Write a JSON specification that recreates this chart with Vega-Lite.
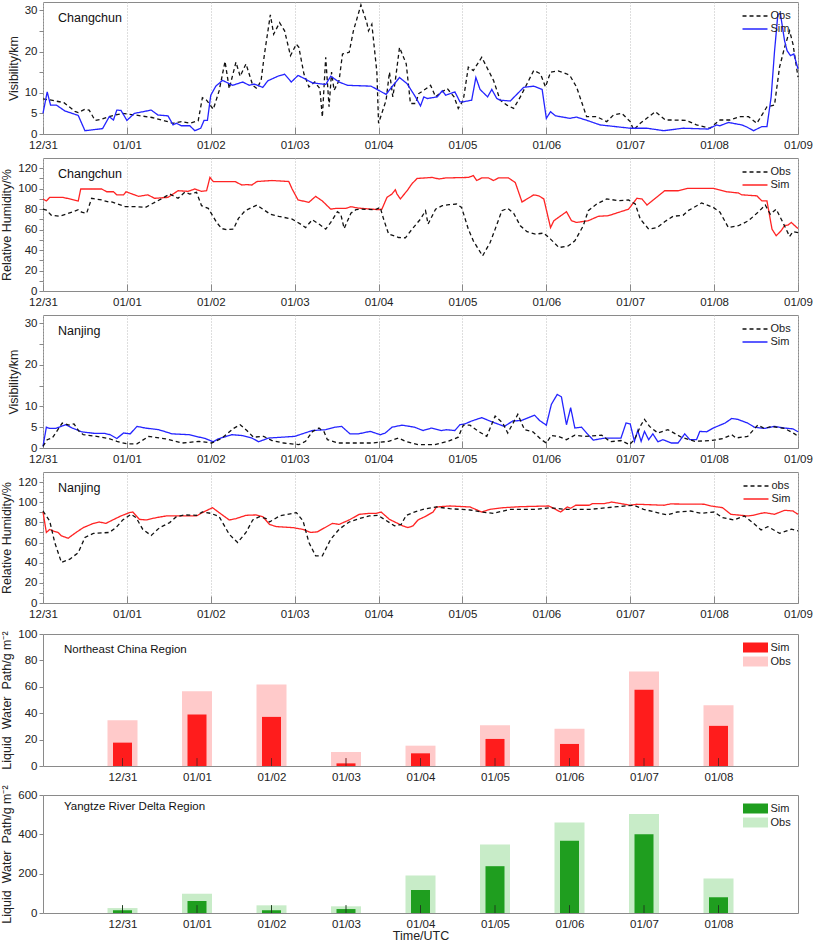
{
"$schema": "https://vega.github.io/schema/vega-lite/v6.json",
"background": "white",
"padding": {"left": 0, "top": 1, "right": 0, "bottom": 0},
"spacing": 7,
"resolve": {"scale": {"color": "independent", "strokeDash": "independent"}, "legend": {"color": "independent", "strokeDash": "independent"}},
"datasets": {
"p1": [
{"t":0,"v":8.5,"s":"Obs"},{"t":0.1,"v":8.2,"s":"Obs"},{"t":0.25,"v":7.6,"s":"Obs"},{"t":0.38,"v":5.5,"s":"Obs"},{"t":0.42,"v":5.2,"s":"Obs"},{"t":0.5,"v":6.0,"s":"Obs"},{"t":0.55,"v":5.8,"s":"Obs"},{"t":0.62,"v":3.3,"s":"Obs"},{"t":0.7,"v":3.6,"s":"Obs"},{"t":0.8,"v":4.3,"s":"Obs"},{"t":0.95,"v":5.0,"s":"Obs"},{"t":1.1,"v":4.6,"s":"Obs"},{"t":1.3,"v":4.0,"s":"Obs"},{"t":1.45,"v":3.2,"s":"Obs"},{"t":1.55,"v":2.6,"s":"Obs"},{"t":1.65,"v":3.0,"s":"Obs"},{"t":1.75,"v":2.6,"s":"Obs"},{"t":1.85,"v":3.2,"s":"Obs"},{"t":1.9,"v":8.8,"s":"Obs"},{"t":1.95,"v":8.2,"s":"Obs"},{"t":2.03,"v":6.0,"s":"Obs"},{"t":2.1,"v":10.5,"s":"Obs"},{"t":2.17,"v":17.6,"s":"Obs"},{"t":2.22,"v":11,"s":"Obs"},{"t":2.3,"v":17.4,"s":"Obs"},{"t":2.35,"v":14,"s":"Obs"},{"t":2.42,"v":17,"s":"Obs"},{"t":2.5,"v":11.8,"s":"Obs"},{"t":2.55,"v":11,"s":"Obs"},{"t":2.6,"v":13,"s":"Obs"},{"t":2.64,"v":19.4,"s":"Obs"},{"t":2.71,"v":28.9,"s":"Obs"},{"t":2.75,"v":24.2,"s":"Obs"},{"t":2.82,"v":27,"s":"Obs"},{"t":2.88,"v":25,"s":"Obs"},{"t":2.95,"v":19,"s":"Obs"},{"t":3.02,"v":21.8,"s":"Obs"},{"t":3.05,"v":21,"s":"Obs"},{"t":3.11,"v":14.6,"s":"Obs"},{"t":3.17,"v":11.4,"s":"Obs"},{"t":3.24,"v":12.6,"s":"Obs"},{"t":3.3,"v":11,"s":"Obs"},{"t":3.33,"v":4.1,"s":"Obs"},{"t":3.37,"v":18.6,"s":"Obs"},{"t":3.41,"v":6.6,"s":"Obs"},{"t":3.44,"v":15,"s":"Obs"},{"t":3.47,"v":10.6,"s":"Obs"},{"t":3.53,"v":13,"s":"Obs"},{"t":3.57,"v":19.4,"s":"Obs"},{"t":3.65,"v":19.8,"s":"Obs"},{"t":3.7,"v":25,"s":"Obs"},{"t":3.79,"v":31.3,"s":"Obs"},{"t":3.86,"v":27,"s":"Obs"},{"t":3.88,"v":25,"s":"Obs"},{"t":3.92,"v":26.6,"s":"Obs"},{"t":3.98,"v":15,"s":"Obs"},{"t":4.0,"v":2.6,"s":"Obs"},{"t":4.09,"v":8.2,"s":"Obs"},{"t":4.13,"v":15,"s":"Obs"},{"t":4.17,"v":9,"s":"Obs"},{"t":4.2,"v":13,"s":"Obs"},{"t":4.25,"v":21,"s":"Obs"},{"t":4.33,"v":17,"s":"Obs"},{"t":4.38,"v":7.4,"s":"Obs"},{"t":4.44,"v":7.4,"s":"Obs"},{"t":4.48,"v":9.8,"s":"Obs"},{"t":4.54,"v":10.6,"s":"Obs"},{"t":4.62,"v":11.8,"s":"Obs"},{"t":4.68,"v":9,"s":"Obs"},{"t":4.74,"v":10,"s":"Obs"},{"t":4.82,"v":11,"s":"Obs"},{"t":4.9,"v":9,"s":"Obs"},{"t":4.95,"v":6.2,"s":"Obs"},{"t":5.01,"v":8.2,"s":"Obs"},{"t":5.07,"v":16.2,"s":"Obs"},{"t":5.13,"v":15.4,"s":"Obs"},{"t":5.23,"v":18.6,"s":"Obs"},{"t":5.31,"v":15.4,"s":"Obs"},{"t":5.37,"v":13,"s":"Obs"},{"t":5.45,"v":8.2,"s":"Obs"},{"t":5.53,"v":7,"s":"Obs"},{"t":5.61,"v":6.2,"s":"Obs"},{"t":5.69,"v":9,"s":"Obs"},{"t":5.77,"v":12.2,"s":"Obs"},{"t":5.85,"v":15.4,"s":"Obs"},{"t":5.93,"v":14.6,"s":"Obs"},{"t":5.99,"v":11.4,"s":"Obs"},{"t":6.05,"v":15,"s":"Obs"},{"t":6.14,"v":15.3,"s":"Obs"},{"t":6.24,"v":14.6,"s":"Obs"},{"t":6.28,"v":14.2,"s":"Obs"},{"t":6.36,"v":11.4,"s":"Obs"},{"t":6.48,"v":4.2,"s":"Obs"},{"t":6.6,"v":4.2,"s":"Obs"},{"t":6.72,"v":3,"s":"Obs"},{"t":6.8,"v":4.6,"s":"Obs"},{"t":6.9,"v":5,"s":"Obs"},{"t":7.0,"v":3,"s":"Obs"},{"t":7.04,"v":1,"s":"Obs"},{"t":7.12,"v":2.6,"s":"Obs"},{"t":7.3,"v":5.4,"s":"Obs"},{"t":7.42,"v":3.4,"s":"Obs"},{"t":7.51,"v":3.4,"s":"Obs"},{"t":7.67,"v":3.3,"s":"Obs"},{"t":7.79,"v":2.2,"s":"Obs"},{"t":7.95,"v":1.4,"s":"Obs"},{"t":8.07,"v":3.4,"s":"Obs"},{"t":8.19,"v":3.4,"s":"Obs"},{"t":8.31,"v":4.2,"s":"Obs"},{"t":8.41,"v":4.2,"s":"Obs"},{"t":8.51,"v":2.6,"s":"Obs"},{"t":8.63,"v":6.6,"s":"Obs"},{"t":8.72,"v":7,"s":"Obs"},{"t":8.78,"v":16.2,"s":"Obs"},{"t":8.84,"v":21,"s":"Obs"},{"t":8.9,"v":25,"s":"Obs"},{"t":8.94,"v":21.8,"s":"Obs"},{"t":9.0,"v":13.8,"s":"Obs"},
{"t":0,"v":5,"s":"Sim"},{"t":0.05,"v":10.2,"s":"Sim"},{"t":0.09,"v":7,"s":"Sim"},{"t":0.16,"v":7,"s":"Sim"},{"t":0.26,"v":5.6,"s":"Sim"},{"t":0.42,"v":4.5,"s":"Sim"},{"t":0.5,"v":0.8,"s":"Sim"},{"t":0.71,"v":1.3,"s":"Sim"},{"t":0.79,"v":4.2,"s":"Sim"},{"t":0.84,"v":3.4,"s":"Sim"},{"t":0.88,"v":5.8,"s":"Sim"},{"t":0.93,"v":5.7,"s":"Sim"},{"t":1.0,"v":3.3,"s":"Sim"},{"t":1.09,"v":5,"s":"Sim"},{"t":1.29,"v":5.8,"s":"Sim"},{"t":1.37,"v":4.6,"s":"Sim"},{"t":1.49,"v":4.4,"s":"Sim"},{"t":1.55,"v":2.2,"s":"Sim"},{"t":1.59,"v":2.6,"s":"Sim"},{"t":1.65,"v":2,"s":"Sim"},{"t":1.75,"v":2,"s":"Sim"},{"t":1.81,"v":0.8,"s":"Sim"},{"t":1.88,"v":1.4,"s":"Sim"},{"t":1.92,"v":3.3,"s":"Sim"},{"t":1.96,"v":3.3,"s":"Sim"},{"t":2.0,"v":9.4,"s":"Sim"},{"t":2.06,"v":11.6,"s":"Sim"},{"t":2.14,"v":13,"s":"Sim"},{"t":2.26,"v":11.8,"s":"Sim"},{"t":2.38,"v":12.6,"s":"Sim"},{"t":2.46,"v":11.8,"s":"Sim"},{"t":2.52,"v":12.1,"s":"Sim"},{"t":2.62,"v":11.3,"s":"Sim"},{"t":2.68,"v":12.9,"s":"Sim"},{"t":2.8,"v":14,"s":"Sim"},{"t":2.88,"v":14.5,"s":"Sim"},{"t":2.96,"v":12.6,"s":"Sim"},{"t":3.04,"v":14.2,"s":"Sim"},{"t":3.12,"v":13.4,"s":"Sim"},{"t":3.21,"v":12.4,"s":"Sim"},{"t":3.37,"v":12,"s":"Sim"},{"t":3.43,"v":14,"s":"Sim"},{"t":3.53,"v":12.6,"s":"Sim"},{"t":3.63,"v":11.8,"s":"Sim"},{"t":3.91,"v":11.6,"s":"Sim"},{"t":4.09,"v":9.6,"s":"Sim"},{"t":4.15,"v":11.2,"s":"Sim"},{"t":4.25,"v":13.7,"s":"Sim"},{"t":4.34,"v":12.2,"s":"Sim"},{"t":4.44,"v":9,"s":"Sim"},{"t":4.5,"v":6.8,"s":"Sim"},{"t":4.54,"v":9,"s":"Sim"},{"t":4.58,"v":8.6,"s":"Sim"},{"t":4.7,"v":9,"s":"Sim"},{"t":4.76,"v":10.5,"s":"Sim"},{"t":4.8,"v":9.4,"s":"Sim"},{"t":4.91,"v":10.2,"s":"Sim"},{"t":4.97,"v":7.8,"s":"Sim"},{"t":5.01,"v":7.8,"s":"Sim"},{"t":5.11,"v":8.2,"s":"Sim"},{"t":5.16,"v":13.7,"s":"Sim"},{"t":5.21,"v":10.8,"s":"Sim"},{"t":5.3,"v":9,"s":"Sim"},{"t":5.35,"v":10.8,"s":"Sim"},{"t":5.41,"v":8.6,"s":"Sim"},{"t":5.45,"v":8.2,"s":"Sim"},{"t":5.57,"v":8,"s":"Sim"},{"t":5.73,"v":11.3,"s":"Sim"},{"t":5.85,"v":11.6,"s":"Sim"},{"t":5.95,"v":10.8,"s":"Sim"},{"t":6.0,"v":3.8,"s":"Sim"},{"t":6.05,"v":5.4,"s":"Sim"},{"t":6.11,"v":4.4,"s":"Sim"},{"t":6.28,"v":3.8,"s":"Sim"},{"t":6.36,"v":4.1,"s":"Sim"},{"t":6.5,"v":3.2,"s":"Sim"},{"t":6.64,"v":2.2,"s":"Sim"},{"t":7.0,"v":1.4,"s":"Sim"},{"t":7.2,"v":1.4,"s":"Sim"},{"t":7.4,"v":0.8,"s":"Sim"},{"t":7.63,"v":1.4,"s":"Sim"},{"t":7.93,"v":1.2,"s":"Sim"},{"t":8.03,"v":2.2,"s":"Sim"},{"t":8.07,"v":2,"s":"Sim"},{"t":8.17,"v":2.8,"s":"Sim"},{"t":8.33,"v":2.2,"s":"Sim"},{"t":8.39,"v":1.7,"s":"Sim"},{"t":8.47,"v":0.8,"s":"Sim"},{"t":8.57,"v":1.8,"s":"Sim"},{"t":8.63,"v":1.8,"s":"Sim"},{"t":8.68,"v":9,"s":"Sim"},{"t":8.72,"v":20,"s":"Sim"},{"t":8.76,"v":29,"s":"Sim"},{"t":8.79,"v":29.2,"s":"Sim"},{"t":8.84,"v":22.6,"s":"Sim"},{"t":8.87,"v":20.2,"s":"Sim"},{"t":8.91,"v":19,"s":"Sim"},{"t":8.95,"v":19.4,"s":"Sim"},{"t":9.0,"v":15.8,"s":"Sim"}
],
"p2": [
{"t":0,"v":90,"s":"Sim"},{"t":0.04,"v":88,"s":"Sim"},{"t":0.08,"v":91.5,"s":"Sim"},{"t":0.24,"v":91.5,"s":"Sim"},{"t":0.42,"v":88,"s":"Sim"},{"t":0.45,"v":99.7,"s":"Sim"},{"t":0.7,"v":99.7,"s":"Sim"},{"t":0.76,"v":97,"s":"Sim"},{"t":0.84,"v":97,"s":"Sim"},{"t":0.88,"v":94,"s":"Sim"},{"t":0.96,"v":94,"s":"Sim"},{"t":0.99,"v":97,"s":"Sim"},{"t":1.14,"v":92.5,"s":"Sim"},{"t":1.25,"v":94,"s":"Sim"},{"t":1.33,"v":90.6,"s":"Sim"},{"t":1.49,"v":91.5,"s":"Sim"},{"t":1.61,"v":98,"s":"Sim"},{"t":1.73,"v":97.4,"s":"Sim"},{"t":1.81,"v":99.7,"s":"Sim"},{"t":1.89,"v":97.4,"s":"Sim"},{"t":1.95,"v":98,"s":"Sim"},{"t":1.99,"v":111,"s":"Sim"},{"t":2.03,"v":107,"s":"Sim"},{"t":2.29,"v":107,"s":"Sim"},{"t":2.37,"v":103.6,"s":"Sim"},{"t":2.43,"v":104,"s":"Sim"},{"t":2.49,"v":103.6,"s":"Sim"},{"t":2.55,"v":107,"s":"Sim"},{"t":2.73,"v":108,"s":"Sim"},{"t":2.93,"v":107,"s":"Sim"},{"t":2.97,"v":99.7,"s":"Sim"},{"t":3.04,"v":89,"s":"Sim"},{"t":3.17,"v":86.7,"s":"Sim"},{"t":3.25,"v":92.5,"s":"Sim"},{"t":3.33,"v":88,"s":"Sim"},{"t":3.43,"v":80,"s":"Sim"},{"t":3.49,"v":80.7,"s":"Sim"},{"t":3.61,"v":80.7,"s":"Sim"},{"t":3.67,"v":82.4,"s":"Sim"},{"t":3.76,"v":81,"s":"Sim"},{"t":4.0,"v":79.5,"s":"Sim"},{"t":4.04,"v":80,"s":"Sim"},{"t":4.1,"v":91.5,"s":"Sim"},{"t":4.16,"v":94.8,"s":"Sim"},{"t":4.2,"v":99,"s":"Sim"},{"t":4.22,"v":94.8,"s":"Sim"},{"t":4.26,"v":90,"s":"Sim"},{"t":4.34,"v":98,"s":"Sim"},{"t":4.4,"v":105,"s":"Sim"},{"t":4.46,"v":110,"s":"Sim"},{"t":4.64,"v":111,"s":"Sim"},{"t":4.72,"v":109.5,"s":"Sim"},{"t":4.8,"v":110.5,"s":"Sim"},{"t":5.07,"v":111,"s":"Sim"},{"t":5.13,"v":112.8,"s":"Sim"},{"t":5.17,"v":108,"s":"Sim"},{"t":5.23,"v":110.5,"s":"Sim"},{"t":5.31,"v":110.5,"s":"Sim"},{"t":5.37,"v":108,"s":"Sim"},{"t":5.43,"v":110.5,"s":"Sim"},{"t":5.55,"v":110.5,"s":"Sim"},{"t":5.63,"v":106,"s":"Sim"},{"t":5.71,"v":87,"s":"Sim"},{"t":5.77,"v":90,"s":"Sim"},{"t":5.85,"v":94,"s":"Sim"},{"t":5.91,"v":93,"s":"Sim"},{"t":5.97,"v":90,"s":"Sim"},{"t":6.05,"v":62,"s":"Sim"},{"t":6.09,"v":68.7,"s":"Sim"},{"t":6.24,"v":77.5,"s":"Sim"},{"t":6.3,"v":68.7,"s":"Sim"},{"t":6.36,"v":67,"s":"Sim"},{"t":6.5,"v":68.7,"s":"Sim"},{"t":6.62,"v":73,"s":"Sim"},{"t":6.74,"v":73.6,"s":"Sim"},{"t":6.98,"v":80,"s":"Sim"},{"t":7.08,"v":90.6,"s":"Sim"},{"t":7.14,"v":90,"s":"Sim"},{"t":7.2,"v":84,"s":"Sim"},{"t":7.41,"v":98,"s":"Sim"},{"t":7.57,"v":98,"s":"Sim"},{"t":7.69,"v":100.4,"s":"Sim"},{"t":7.99,"v":100.4,"s":"Sim"},{"t":8.15,"v":97,"s":"Sim"},{"t":8.29,"v":95.8,"s":"Sim"},{"t":8.33,"v":94,"s":"Sim"},{"t":8.51,"v":93,"s":"Sim"},{"t":8.57,"v":88,"s":"Sim"},{"t":8.63,"v":88,"s":"Sim"},{"t":8.69,"v":60.5,"s":"Sim"},{"t":8.74,"v":54,"s":"Sim"},{"t":8.8,"v":59,"s":"Sim"},{"t":8.84,"v":64,"s":"Sim"},{"t":8.88,"v":64.4,"s":"Sim"},{"t":8.92,"v":67,"s":"Sim"},{"t":9.0,"v":61,"s":"Sim"},
{"t":0,"v":80,"s":"Obs"},{"t":0.04,"v":79,"s":"Obs"},{"t":0.1,"v":74,"s":"Obs"},{"t":0.2,"v":73,"s":"Obs"},{"t":0.36,"v":77.5,"s":"Obs"},{"t":0.42,"v":79.5,"s":"Obs"},{"t":0.46,"v":77,"s":"Obs"},{"t":0.52,"v":76,"s":"Obs"},{"t":0.58,"v":90.6,"s":"Obs"},{"t":0.7,"v":89,"s":"Obs"},{"t":0.78,"v":87,"s":"Obs"},{"t":0.82,"v":87,"s":"Obs"},{"t":0.98,"v":82.4,"s":"Obs"},{"t":1.1,"v":82.4,"s":"Obs"},{"t":1.22,"v":81.7,"s":"Obs"},{"t":1.41,"v":90,"s":"Obs"},{"t":1.51,"v":94.8,"s":"Obs"},{"t":1.61,"v":90.6,"s":"Obs"},{"t":1.69,"v":96.5,"s":"Obs"},{"t":1.75,"v":94.8,"s":"Obs"},{"t":1.83,"v":96.5,"s":"Obs"},{"t":1.89,"v":83.4,"s":"Obs"},{"t":1.97,"v":80.8,"s":"Obs"},{"t":2.07,"v":67,"s":"Obs"},{"t":2.13,"v":61,"s":"Obs"},{"t":2.19,"v":60,"s":"Obs"},{"t":2.27,"v":60.5,"s":"Obs"},{"t":2.33,"v":71,"s":"Obs"},{"t":2.41,"v":78.5,"s":"Obs"},{"t":2.55,"v":84,"s":"Obs"},{"t":2.63,"v":79.5,"s":"Obs"},{"t":2.71,"v":75,"s":"Obs"},{"t":2.81,"v":73,"s":"Obs"},{"t":2.97,"v":70.3,"s":"Obs"},{"t":3.07,"v":65.4,"s":"Obs"},{"t":3.13,"v":62,"s":"Obs"},{"t":3.21,"v":69.7,"s":"Obs"},{"t":3.29,"v":65.4,"s":"Obs"},{"t":3.37,"v":60.5,"s":"Obs"},{"t":3.43,"v":67,"s":"Obs"},{"t":3.51,"v":77.5,"s":"Obs"},{"t":3.55,"v":75,"s":"Obs"},{"t":3.59,"v":61,"s":"Obs"},{"t":3.67,"v":76,"s":"Obs"},{"t":3.73,"v":79.5,"s":"Obs"},{"t":3.8,"v":80,"s":"Obs"},{"t":3.96,"v":79.5,"s":"Obs"},{"t":4.02,"v":81.7,"s":"Obs"},{"t":4.06,"v":70.3,"s":"Obs"},{"t":4.12,"v":55.6,"s":"Obs"},{"t":4.24,"v":52.3,"s":"Obs"},{"t":4.32,"v":52,"s":"Obs"},{"t":4.4,"v":60.5,"s":"Obs"},{"t":4.5,"v":70.3,"s":"Obs"},{"t":4.56,"v":78.5,"s":"Obs"},{"t":4.59,"v":65.4,"s":"Obs"},{"t":4.68,"v":80,"s":"Obs"},{"t":4.76,"v":83.4,"s":"Obs"},{"t":4.84,"v":84.4,"s":"Obs"},{"t":4.93,"v":85,"s":"Obs"},{"t":4.99,"v":81.7,"s":"Obs"},{"t":5.07,"v":60.5,"s":"Obs"},{"t":5.13,"v":49,"s":"Obs"},{"t":5.24,"v":34.3,"s":"Obs"},{"t":5.33,"v":47.4,"s":"Obs"},{"t":5.39,"v":60.5,"s":"Obs"},{"t":5.47,"v":78.5,"s":"Obs"},{"t":5.54,"v":80.8,"s":"Obs"},{"t":5.61,"v":76,"s":"Obs"},{"t":5.69,"v":63.8,"s":"Obs"},{"t":5.77,"v":58,"s":"Obs"},{"t":5.87,"v":55.6,"s":"Obs"},{"t":5.97,"v":56.6,"s":"Obs"},{"t":6.05,"v":50.7,"s":"Obs"},{"t":6.15,"v":42.5,"s":"Obs"},{"t":6.26,"v":44,"s":"Obs"},{"t":6.34,"v":49,"s":"Obs"},{"t":6.44,"v":63.8,"s":"Obs"},{"t":6.5,"v":78.5,"s":"Obs"},{"t":6.6,"v":85,"s":"Obs"},{"t":6.72,"v":90,"s":"Obs"},{"t":6.86,"v":88.3,"s":"Obs"},{"t":6.98,"v":89,"s":"Obs"},{"t":7.06,"v":85,"s":"Obs"},{"t":7.12,"v":70.3,"s":"Obs"},{"t":7.22,"v":60.5,"s":"Obs"},{"t":7.32,"v":62,"s":"Obs"},{"t":7.41,"v":67.7,"s":"Obs"},{"t":7.51,"v":73,"s":"Obs"},{"t":7.63,"v":74,"s":"Obs"},{"t":7.69,"v":78.5,"s":"Obs"},{"t":7.85,"v":86,"s":"Obs"},{"t":7.99,"v":81.7,"s":"Obs"},{"t":8.07,"v":77,"s":"Obs"},{"t":8.17,"v":62,"s":"Obs"},{"t":8.29,"v":63.8,"s":"Obs"},{"t":8.41,"v":68.7,"s":"Obs"},{"t":8.53,"v":77.5,"s":"Obs"},{"t":8.61,"v":84,"s":"Obs"},{"t":8.67,"v":75,"s":"Obs"},{"t":8.74,"v":80,"s":"Obs"},{"t":8.82,"v":67,"s":"Obs"},{"t":8.9,"v":53.3,"s":"Obs"},{"t":8.94,"v":58,"s":"Obs"},{"t":9.0,"v":57,"s":"Obs"}
],
"p3": [
{"t":0,"v":0.4,"s":"Sim"},{"t":0.04,"v":5,"s":"Sim"},{"t":0.08,"v":4.7,"s":"Sim"},{"t":0.15,"v":4.7,"s":"Sim"},{"t":0.27,"v":5.6,"s":"Sim"},{"t":0.35,"v":4.8,"s":"Sim"},{"t":0.46,"v":3.9,"s":"Sim"},{"t":0.62,"v":3.5,"s":"Sim"},{"t":0.74,"v":3.5,"s":"Sim"},{"t":0.8,"v":3.2,"s":"Sim"},{"t":0.88,"v":2.3,"s":"Sim"},{"t":0.96,"v":3.6,"s":"Sim"},{"t":1.04,"v":3.4,"s":"Sim"},{"t":1.12,"v":5.2,"s":"Sim"},{"t":1.22,"v":4.8,"s":"Sim"},{"t":1.38,"v":4.4,"s":"Sim"},{"t":1.54,"v":3.4,"s":"Sim"},{"t":1.74,"v":3.2,"s":"Sim"},{"t":1.93,"v":2.3,"s":"Sim"},{"t":2.03,"v":1.5,"s":"Sim"},{"t":2.09,"v":2.2,"s":"Sim"},{"t":2.25,"v":3.2,"s":"Sim"},{"t":2.37,"v":3,"s":"Sim"},{"t":2.49,"v":2.4,"s":"Sim"},{"t":2.57,"v":1.5,"s":"Sim"},{"t":2.69,"v":2.4,"s":"Sim"},{"t":2.85,"v":2.6,"s":"Sim"},{"t":3.0,"v":2.8,"s":"Sim"},{"t":3.21,"v":4.2,"s":"Sim"},{"t":3.37,"v":4.4,"s":"Sim"},{"t":3.48,"v":5,"s":"Sim"},{"t":3.56,"v":5.2,"s":"Sim"},{"t":3.66,"v":3.4,"s":"Sim"},{"t":3.76,"v":3.4,"s":"Sim"},{"t":3.9,"v":4,"s":"Sim"},{"t":4.02,"v":3.2,"s":"Sim"},{"t":4.08,"v":3.6,"s":"Sim"},{"t":4.16,"v":5,"s":"Sim"},{"t":4.28,"v":5.5,"s":"Sim"},{"t":4.43,"v":5,"s":"Sim"},{"t":4.53,"v":4.2,"s":"Sim"},{"t":4.63,"v":4.8,"s":"Sim"},{"t":4.75,"v":4.2,"s":"Sim"},{"t":4.81,"v":4.4,"s":"Sim"},{"t":4.91,"v":4.2,"s":"Sim"},{"t":4.97,"v":5.6,"s":"Sim"},{"t":5.03,"v":5.8,"s":"Sim"},{"t":5.11,"v":6.5,"s":"Sim"},{"t":5.23,"v":7.3,"s":"Sim"},{"t":5.35,"v":6.3,"s":"Sim"},{"t":5.5,"v":5.2,"s":"Sim"},{"t":5.6,"v":6.5,"s":"Sim"},{"t":5.7,"v":6.6,"s":"Sim"},{"t":5.86,"v":7.9,"s":"Sim"},{"t":5.92,"v":6.6,"s":"Sim"},{"t":6.0,"v":5.5,"s":"Sim"},{"t":6.06,"v":10.5,"s":"Sim"},{"t":6.13,"v":12.9,"s":"Sim"},{"t":6.18,"v":12.3,"s":"Sim"},{"t":6.24,"v":5.6,"s":"Sim"},{"t":6.29,"v":9.7,"s":"Sim"},{"t":6.34,"v":4.8,"s":"Sim"},{"t":6.42,"v":5,"s":"Sim"},{"t":6.48,"v":3.6,"s":"Sim"},{"t":6.56,"v":1.9,"s":"Sim"},{"t":6.7,"v":2.4,"s":"Sim"},{"t":6.89,"v":2.4,"s":"Sim"},{"t":6.95,"v":6,"s":"Sim"},{"t":7.0,"v":5.8,"s":"Sim"},{"t":7.05,"v":1.6,"s":"Sim"},{"t":7.09,"v":4.2,"s":"Sim"},{"t":7.13,"v":1.6,"s":"Sim"},{"t":7.17,"v":4,"s":"Sim"},{"t":7.22,"v":2,"s":"Sim"},{"t":7.27,"v":3.4,"s":"Sim"},{"t":7.33,"v":1.5,"s":"Sim"},{"t":7.39,"v":2,"s":"Sim"},{"t":7.49,"v":1.2,"s":"Sim"},{"t":7.57,"v":1.2,"s":"Sim"},{"t":7.65,"v":3.4,"s":"Sim"},{"t":7.71,"v":2,"s":"Sim"},{"t":7.79,"v":2,"s":"Sim"},{"t":7.83,"v":4,"s":"Sim"},{"t":7.91,"v":3.9,"s":"Sim"},{"t":7.99,"v":4.8,"s":"Sim"},{"t":8.13,"v":6,"s":"Sim"},{"t":8.21,"v":7.1,"s":"Sim"},{"t":8.28,"v":6.9,"s":"Sim"},{"t":8.4,"v":6,"s":"Sim"},{"t":8.48,"v":5,"s":"Sim"},{"t":8.6,"v":4.7,"s":"Sim"},{"t":8.72,"v":5.2,"s":"Sim"},{"t":8.84,"v":4.8,"s":"Sim"},{"t":8.94,"v":4.6,"s":"Sim"},{"t":9.0,"v":3.9,"s":"Sim"},
{"t":0,"v":0.4,"s":"Obs"},{"t":0.05,"v":2,"s":"Obs"},{"t":0.11,"v":2.4,"s":"Obs"},{"t":0.15,"v":3.6,"s":"Obs"},{"t":0.23,"v":6,"s":"Obs"},{"t":0.31,"v":5.5,"s":"Obs"},{"t":0.37,"v":5.8,"s":"Obs"},{"t":0.43,"v":4,"s":"Obs"},{"t":0.48,"v":3.2,"s":"Obs"},{"t":0.64,"v":2.8,"s":"Obs"},{"t":0.78,"v":2.3,"s":"Obs"},{"t":0.88,"v":1.6,"s":"Obs"},{"t":1.0,"v":1,"s":"Obs"},{"t":1.12,"v":1,"s":"Obs"},{"t":1.26,"v":2.8,"s":"Obs"},{"t":1.46,"v":2.2,"s":"Obs"},{"t":1.66,"v":1.2,"s":"Obs"},{"t":1.86,"v":1.6,"s":"Obs"},{"t":2.01,"v":1.2,"s":"Obs"},{"t":2.13,"v":2.3,"s":"Obs"},{"t":2.27,"v":4.7,"s":"Obs"},{"t":2.35,"v":5.6,"s":"Obs"},{"t":2.43,"v":4.2,"s":"Obs"},{"t":2.51,"v":2.6,"s":"Obs"},{"t":2.63,"v":2.8,"s":"Obs"},{"t":2.73,"v":1.8,"s":"Obs"},{"t":2.87,"v":1.2,"s":"Obs"},{"t":3.05,"v":0.8,"s":"Obs"},{"t":3.13,"v":1.6,"s":"Obs"},{"t":3.21,"v":3.9,"s":"Obs"},{"t":3.29,"v":4.8,"s":"Obs"},{"t":3.35,"v":3.9,"s":"Obs"},{"t":3.39,"v":2,"s":"Obs"},{"t":3.52,"v":1.2,"s":"Obs"},{"t":3.72,"v":1.2,"s":"Obs"},{"t":3.92,"v":1.2,"s":"Obs"},{"t":4.12,"v":1.6,"s":"Obs"},{"t":4.24,"v":2.4,"s":"Obs"},{"t":4.32,"v":1.6,"s":"Obs"},{"t":4.47,"v":0.8,"s":"Obs"},{"t":4.67,"v":0.8,"s":"Obs"},{"t":4.83,"v":1.6,"s":"Obs"},{"t":4.95,"v":2.6,"s":"Obs"},{"t":5.01,"v":5.5,"s":"Obs"},{"t":5.09,"v":5.5,"s":"Obs"},{"t":5.19,"v":4,"s":"Obs"},{"t":5.29,"v":2.8,"s":"Obs"},{"t":5.39,"v":7.7,"s":"Obs"},{"t":5.48,"v":6,"s":"Obs"},{"t":5.54,"v":3.6,"s":"Obs"},{"t":5.66,"v":8.1,"s":"Obs"},{"t":5.74,"v":4.4,"s":"Obs"},{"t":5.84,"v":3.9,"s":"Obs"},{"t":5.94,"v":2,"s":"Obs"},{"t":6.0,"v":1.2,"s":"Obs"},{"t":6.06,"v":3,"s":"Obs"},{"t":6.14,"v":2.8,"s":"Obs"},{"t":6.24,"v":2,"s":"Obs"},{"t":6.34,"v":3.1,"s":"Obs"},{"t":6.46,"v":2.8,"s":"Obs"},{"t":6.66,"v":3.1,"s":"Obs"},{"t":6.76,"v":1.5,"s":"Obs"},{"t":6.89,"v":1.8,"s":"Obs"},{"t":6.99,"v":0.8,"s":"Obs"},{"t":7.05,"v":2,"s":"Obs"},{"t":7.13,"v":5.6,"s":"Obs"},{"t":7.17,"v":6.9,"s":"Obs"},{"t":7.23,"v":5.2,"s":"Obs"},{"t":7.33,"v":3.6,"s":"Obs"},{"t":7.45,"v":4.4,"s":"Obs"},{"t":7.61,"v":2.6,"s":"Obs"},{"t":7.77,"v":1.6,"s":"Obs"},{"t":7.97,"v":1.8,"s":"Obs"},{"t":8.11,"v":2.3,"s":"Obs"},{"t":8.21,"v":3.2,"s":"Obs"},{"t":8.26,"v":2.4,"s":"Obs"},{"t":8.4,"v":2.8,"s":"Obs"},{"t":8.52,"v":5.5,"s":"Obs"},{"t":8.6,"v":4.7,"s":"Obs"},{"t":8.68,"v":5.2,"s":"Obs"},{"t":8.84,"v":4.7,"s":"Obs"},{"t":8.96,"v":3.4,"s":"Obs"},{"t":9.0,"v":2.8,"s":"Obs"}
],
"p4": [
{"t":0,"v":90.3,"s":"Sim"},{"t":0.04,"v":70,"s":"Sim"},{"t":0.08,"v":73,"s":"Sim"},{"t":0.12,"v":71.5,"s":"Sim"},{"t":0.18,"v":70,"s":"Sim"},{"t":0.22,"v":66.6,"s":"Sim"},{"t":0.3,"v":64.3,"s":"Sim"},{"t":0.38,"v":69.2,"s":"Sim"},{"t":0.48,"v":74.8,"s":"Sim"},{"t":0.6,"v":79,"s":"Sim"},{"t":0.67,"v":80.4,"s":"Sim"},{"t":0.75,"v":79,"s":"Sim"},{"t":0.83,"v":82.4,"s":"Sim"},{"t":0.93,"v":86.4,"s":"Sim"},{"t":1.03,"v":89.7,"s":"Sim"},{"t":1.07,"v":90.3,"s":"Sim"},{"t":1.15,"v":83,"s":"Sim"},{"t":1.23,"v":82.4,"s":"Sim"},{"t":1.35,"v":84.7,"s":"Sim"},{"t":1.47,"v":86.4,"s":"Sim"},{"t":1.83,"v":86.4,"s":"Sim"},{"t":1.9,"v":89.7,"s":"Sim"},{"t":2.02,"v":94.6,"s":"Sim"},{"t":2.1,"v":89.7,"s":"Sim"},{"t":2.22,"v":82.4,"s":"Sim"},{"t":2.3,"v":83.7,"s":"Sim"},{"t":2.42,"v":87,"s":"Sim"},{"t":2.54,"v":87.4,"s":"Sim"},{"t":2.62,"v":85.7,"s":"Sim"},{"t":2.7,"v":78,"s":"Sim"},{"t":2.78,"v":75.8,"s":"Sim"},{"t":2.98,"v":74.8,"s":"Sim"},{"t":3.1,"v":73,"s":"Sim"},{"t":3.19,"v":70,"s":"Sim"},{"t":3.27,"v":70.6,"s":"Sim"},{"t":3.45,"v":79,"s":"Sim"},{"t":3.53,"v":78,"s":"Sim"},{"t":3.65,"v":82.4,"s":"Sim"},{"t":3.77,"v":88,"s":"Sim"},{"t":3.89,"v":89,"s":"Sim"},{"t":3.97,"v":89,"s":"Sim"},{"t":4.03,"v":90.3,"s":"Sim"},{"t":4.13,"v":83,"s":"Sim"},{"t":4.29,"v":76.5,"s":"Sim"},{"t":4.35,"v":74.8,"s":"Sim"},{"t":4.41,"v":76.5,"s":"Sim"},{"t":4.47,"v":82.4,"s":"Sim"},{"t":4.57,"v":86.4,"s":"Sim"},{"t":4.65,"v":90.3,"s":"Sim"},{"t":4.69,"v":95.3,"s":"Sim"},{"t":4.85,"v":96.3,"s":"Sim"},{"t":5.09,"v":95.3,"s":"Sim"},{"t":5.23,"v":90.3,"s":"Sim"},{"t":5.33,"v":93,"s":"Sim"},{"t":5.49,"v":94.6,"s":"Sim"},{"t":5.69,"v":95.6,"s":"Sim"},{"t":6.03,"v":96.3,"s":"Sim"},{"t":6.17,"v":90.3,"s":"Sim"},{"t":6.25,"v":95.3,"s":"Sim"},{"t":6.29,"v":94,"s":"Sim"},{"t":6.35,"v":97,"s":"Sim"},{"t":6.51,"v":97,"s":"Sim"},{"t":6.55,"v":98.6,"s":"Sim"},{"t":6.69,"v":98.6,"s":"Sim"},{"t":6.78,"v":100.2,"s":"Sim"},{"t":7.0,"v":97,"s":"Sim"},{"t":7.08,"v":98,"s":"Sim"},{"t":7.4,"v":97,"s":"Sim"},{"t":7.48,"v":98.3,"s":"Sim"},{"t":7.88,"v":98,"s":"Sim"},{"t":7.96,"v":96.3,"s":"Sim"},{"t":8.1,"v":94.6,"s":"Sim"},{"t":8.2,"v":88,"s":"Sim"},{"t":8.4,"v":86.4,"s":"Sim"},{"t":8.46,"v":87,"s":"Sim"},{"t":8.6,"v":89.7,"s":"Sim"},{"t":8.72,"v":88,"s":"Sim"},{"t":8.84,"v":92,"s":"Sim"},{"t":8.94,"v":91.3,"s":"Sim"},{"t":9.0,"v":88,"s":"Sim"},
{"t":0,"v":91.3,"s":"obs"},{"t":0.08,"v":81.4,"s":"obs"},{"t":0.14,"v":60,"s":"obs"},{"t":0.22,"v":40.2,"s":"obs"},{"t":0.32,"v":43.5,"s":"obs"},{"t":0.42,"v":50,"s":"obs"},{"t":0.5,"v":65,"s":"obs"},{"t":0.6,"v":69,"s":"obs"},{"t":0.79,"v":70,"s":"obs"},{"t":0.87,"v":74.8,"s":"obs"},{"t":0.95,"v":82.4,"s":"obs"},{"t":1.05,"v":88,"s":"obs"},{"t":1.11,"v":84.7,"s":"obs"},{"t":1.19,"v":73,"s":"obs"},{"t":1.29,"v":67,"s":"obs"},{"t":1.39,"v":74.8,"s":"obs"},{"t":1.51,"v":79.8,"s":"obs"},{"t":1.59,"v":85.7,"s":"obs"},{"t":1.69,"v":87.4,"s":"obs"},{"t":1.83,"v":87,"s":"obs"},{"t":1.9,"v":90.3,"s":"obs"},{"t":2.0,"v":89,"s":"obs"},{"t":2.1,"v":85.7,"s":"obs"},{"t":2.22,"v":68.2,"s":"obs"},{"t":2.32,"v":60,"s":"obs"},{"t":2.42,"v":70,"s":"obs"},{"t":2.5,"v":82.4,"s":"obs"},{"t":2.58,"v":85.7,"s":"obs"},{"t":2.66,"v":83.7,"s":"obs"},{"t":2.7,"v":80.4,"s":"obs"},{"t":2.82,"v":86.4,"s":"obs"},{"t":2.98,"v":89,"s":"obs"},{"t":3.02,"v":89.7,"s":"obs"},{"t":3.1,"v":81.4,"s":"obs"},{"t":3.17,"v":60,"s":"obs"},{"t":3.25,"v":46.8,"s":"obs"},{"t":3.33,"v":46.8,"s":"obs"},{"t":3.43,"v":63.3,"s":"obs"},{"t":3.53,"v":73.2,"s":"obs"},{"t":3.65,"v":80.4,"s":"obs"},{"t":3.77,"v":83.7,"s":"obs"},{"t":3.89,"v":86.4,"s":"obs"},{"t":3.99,"v":87,"s":"obs"},{"t":4.07,"v":83,"s":"obs"},{"t":4.19,"v":76.5,"s":"obs"},{"t":4.27,"v":78,"s":"obs"},{"t":4.33,"v":87,"s":"obs"},{"t":4.41,"v":89.7,"s":"obs"},{"t":4.53,"v":93,"s":"obs"},{"t":4.69,"v":95.3,"s":"obs"},{"t":4.85,"v":93.6,"s":"obs"},{"t":5.09,"v":92.3,"s":"obs"},{"t":5.23,"v":90.3,"s":"obs"},{"t":5.37,"v":89,"s":"obs"},{"t":5.57,"v":93,"s":"obs"},{"t":5.89,"v":93,"s":"obs"},{"t":6.05,"v":94.6,"s":"obs"},{"t":6.21,"v":93,"s":"obs"},{"t":6.53,"v":93,"s":"obs"},{"t":6.85,"v":95.6,"s":"obs"},{"t":7.04,"v":97,"s":"obs"},{"t":7.16,"v":93,"s":"obs"},{"t":7.32,"v":89.7,"s":"obs"},{"t":7.44,"v":87.4,"s":"obs"},{"t":7.56,"v":90.3,"s":"obs"},{"t":7.72,"v":91.3,"s":"obs"},{"t":7.84,"v":89,"s":"obs"},{"t":8.0,"v":90.3,"s":"obs"},{"t":8.1,"v":84.7,"s":"obs"},{"t":8.24,"v":82.4,"s":"obs"},{"t":8.36,"v":86.4,"s":"obs"},{"t":8.46,"v":79.8,"s":"obs"},{"t":8.56,"v":72.5,"s":"obs"},{"t":8.64,"v":75.8,"s":"obs"},{"t":8.78,"v":69.2,"s":"obs"},{"t":8.92,"v":73.2,"s":"obs"},{"t":9.0,"v":71.5,"s":"obs"}
],
"ne_obs": [{"d":1,"v":34.7,"s":"Obs"},{"d":2,"v":56.7,"s":"Obs"},{"d":3,"v":61.7,"s":"Obs"},{"d":4,"v":10.6,"s":"Obs"},{"d":5,"v":15.4,"s":"Obs"},{"d":6,"v":30.9,"s":"Obs"},{"d":7,"v":28.3,"s":"Obs"},{"d":8,"v":71.6,"s":"Obs"},{"d":9,"v":46,"s":"Obs"}],
"ne_sim": [{"d":1,"v":17.7,"s":"Sim"},{"d":2,"v":39,"s":"Sim"},{"d":3,"v":37.2,"s":"Sim"},{"d":4,"v":2,"s":"Sim"},{"d":5,"v":9.6,"s":"Sim"},{"d":6,"v":20.5,"s":"Sim"},{"d":7,"v":16.7,"s":"Sim"},{"d":8,"v":57.7,"s":"Sim"},{"d":9,"v":30.4,"s":"Sim"}],
"ne_err": [{"d":1,"v":6,"v0":0},{"d":2,"v":6,"v0":0},{"d":3,"v":6,"v0":0},{"d":4,"v":6,"v0":0},{"d":5,"v":6,"v0":0},{"d":6,"v":6,"v0":0},{"d":7,"v":6,"v0":0},{"d":8,"v":6,"v0":0},{"d":9,"v":6,"v0":0}],
"yrd_obs": [{"d":1,"v":25,"s":"Obs"},{"d":2,"v":98,"s":"Obs"},{"d":3,"v":39,"s":"Obs"},{"d":4,"v":34,"s":"Obs"},{"d":5,"v":191,"s":"Obs"},{"d":6,"v":348,"s":"Obs"},{"d":7,"v":460,"s":"Obs"},{"d":8,"v":504,"s":"Obs"},{"d":9,"v":176,"s":"Obs"}],
"yrd_sim": [{"d":1,"v":14,"s":"Sim"},{"d":2,"v":61,"s":"Sim"},{"d":3,"v":14,"s":"Sim"},{"d":4,"v":20,"s":"Sim"},{"d":5,"v":117,"s":"Sim"},{"d":6,"v":238,"s":"Sim"},{"d":7,"v":367,"s":"Sim"},{"d":8,"v":400,"s":"Sim"},{"d":9,"v":80,"s":"Sim"}],
"yrd_err": [{"d":1,"v":40,"v0":0},{"d":2,"v":40,"v0":0},{"d":3,"v":40,"v0":0},{"d":4,"v":40,"v0":0},{"d":5,"v":40,"v0":0},{"d":6,"v":40,"v0":0},{"d":7,"v":40,"v0":0},{"d":8,"v":40,"v0":0},{"d":9,"v":40,"v0":0}]
},
"vconcat": [
{
"spacing": 6,
"resolve": {"scale": {"color": "independent", "strokeDash": "independent"}, "legend": {"color": "independent", "strokeDash": "independent"}},
"vconcat": [
{
"width": 755, "height": 132,
"title": {"text": "Changchun", "anchor": "start", "frame": "group", "offset": -22, "dx": 15},
"data": {"name": "p1"},
"mark": {"type": "line", "strokeWidth": 1.3},
"encoding": {
"x": {"field": "t", "type": "quantitative", "scale": {"domain": [0, 9], "nice": false}, "axis": {"title": null, "values": [0,1,2,3,4,5,6,7,8,9], "labelExpr": "['12/31','01/01','01/02','01/03','01/04','01/05','01/06','01/07','01/08','01/09'][datum.value]", "grid": true, "gridDash": [1,2], "gridColor": "#bdbdbd", "tickSize": -7, "labelPadding": 12}},
"y": {"field": "v", "type": "quantitative", "scale": {"domain": [0, 32], "nice": false}, "axis": {"title": "Visibility/km", "values": [0,5,10,15,20,25,30], "labelExpr": "datum.value==15||datum.value==25?'':datum.label"}},
"color": {"field": "s", "type": "nominal", "scale": {"domain": ["Obs","Sim"], "range": ["#111111","#2424ff"]}, "legend": {"title": null}},
"strokeDash": {"field": "s", "type": "nominal", "scale": {"domain": ["Obs","Sim"], "range": [[4,3],[1,0]]}, "legend": {"title": null}}
}
},
{
"width": 755, "height": 133,
"title": {"text": "Changchun", "anchor": "start", "frame": "group", "offset": -22, "dx": 15},
"data": {"name": "p2"},
"mark": {"type": "line", "strokeWidth": 1.3},
"encoding": {
"x": {"field": "t", "type": "quantitative", "scale": {"domain": [0, 9], "nice": false}, "axis": {"title": null, "values": [0,1,2,3,4,5,6,7,8,9], "labelExpr": "['12/31','01/01','01/02','01/03','01/04','01/05','01/06','01/07','01/08','01/09'][datum.value]", "grid": true, "gridDash": [1,2], "gridColor": "#bdbdbd", "tickSize": -7, "labelPadding": 12}},
"y": {"field": "v", "type": "quantitative", "scale": {"domain": [0, 130], "nice": false}, "axis": {"title": "Relative Humidity/%", "values": [0,10,20,30,40,50,60,70,80,90,100,110,120], "labelExpr": "datum.value%20==0?datum.label:''"}},
"color": {"field": "s", "type": "nominal", "scale": {"domain": ["Obs","Sim"], "range": ["#111111","#ff2424"]}, "legend": {"title": null}},
"strokeDash": {"field": "s", "type": "nominal", "scale": {"domain": ["Obs","Sim"], "range": [[4,3],[1,0]]}, "legend": {"title": null}}
}
},
{
"width": 755, "height": 133,
"title": {"text": "Nanjing", "anchor": "start", "frame": "group", "offset": -22, "dx": 15},
"data": {"name": "p3"},
"mark": {"type": "line", "strokeWidth": 1.3},
"encoding": {
"x": {"field": "t", "type": "quantitative", "scale": {"domain": [0, 9], "nice": false}, "axis": {"title": null, "values": [0,1,2,3,4,5,6,7,8,9], "labelExpr": "['12/31','01/01','01/02','01/03','01/04','01/05','01/06','01/07','01/08','01/09'][datum.value]", "grid": true, "gridDash": [1,2], "gridColor": "#bdbdbd", "tickSize": -7, "labelPadding": 12}},
"y": {"field": "v", "type": "quantitative", "scale": {"domain": [0, 32], "nice": false}, "axis": {"title": "Visibility/km", "values": [0,5,10,15,20,25,30], "labelExpr": "datum.value==15||datum.value==25?'':datum.label"}},
"color": {"field": "s", "type": "nominal", "scale": {"domain": ["Obs","Sim"], "range": ["#111111","#2424ff"]}, "legend": {"title": null}},
"strokeDash": {"field": "s", "type": "nominal", "scale": {"domain": ["Obs","Sim"], "range": [[4,3],[1,0]]}, "legend": {"title": null}}
}
},
{
"width": 755, "height": 131,
"title": {"text": "Nanjing", "anchor": "start", "frame": "group", "offset": -22, "dx": 15},
"data": {"name": "p4"},
"mark": {"type": "line", "strokeWidth": 1.3},
"encoding": {
"x": {"field": "t", "type": "quantitative", "scale": {"domain": [0, 9], "nice": false}, "axis": {"title": null, "values": [0,1,2,3,4,5,6,7,8,9], "labelExpr": "['12/31','01/01','01/02','01/03','01/04','01/05','01/06','01/07','01/08','01/09'][datum.value]", "grid": true, "gridDash": [1,2], "gridColor": "#bdbdbd", "tickSize": -7, "labelPadding": 12}},
"y": {"field": "v", "type": "quantitative", "scale": {"domain": [0, 130], "nice": false}, "axis": {"title": "Relative Humidity/%", "values": [0,10,20,30,40,50,60,70,80,90,100,110,120], "labelExpr": "datum.value%20==0?datum.label:''"}},
"color": {"field": "s", "type": "nominal", "scale": {"domain": ["obs","Sim"], "range": ["#111111","#ff2424"]}, "legend": {"title": null}},
"strokeDash": {"field": "s", "type": "nominal", "scale": {"domain": ["obs","Sim"], "range": [[4,3],[1,0]]}, "legend": {"title": null}}
}
}
]
},
{
"spacing": 1,
"resolve": {"scale": {"color": "independent"}, "legend": {"color": "independent"}},
"vconcat": [
{
"width": 755, "height": 132,
"title": {"text": "Northeast China Region", "anchor": "start", "frame": "group", "offset": -27, "dx": 21, "fontSize": 11.5},
"encoding": {
"x": {"field": "d", "type": "quantitative", "scale": {"domain": [0, 10], "nice": false}, "axis": {"title": null, "values": [1,2,3,4,5,6,7,8,9], "labelExpr": "['','12/31','01/01','01/02','01/03','01/04','01/05','01/06','01/07','01/08'][datum.value]", "grid": false, "ticks": false, "labelPadding": 5}},
"y": {"field": "v", "type": "quantitative", "scale": {"domain": [0, 100], "nice": false}, "axis": {"title": "Liquid\u00a0\u00a0Water\u00a0\u00a0Path/g m⁻²", "values": [0,20,40,60,80,100]}}
},
"layer": [
{"data": {"name": "ne_obs"}, "mark": {"type": "bar", "width": 30},
 "encoding": {"color": {"field": "s", "type": "nominal", "scale": {"domain": ["Sim","Obs"], "range": ["#ff1c1c","#ffcaca"]}, "legend": {"title": null, "symbolType": "M-2,-0.8H2V0.8H-2Z", "symbolSize": 156, "symbolStrokeWidth": 0, "rowPadding": 2, "offset": 7, "labelOffset": 8.5}}}},
{"data": {"name": "ne_sim"}, "mark": {"type": "bar", "width": 19},
 "encoding": {"color": {"field": "s", "type": "nominal"}}},
{"data": {"name": "ne_err"}, "mark": {"type": "rule", "color": "#6e2020", "strokeWidth": 1},
 "encoding": {"y2": {"field": "v0"}}}
]
},
{
"width": 755, "height": 118,
"title": {"text": "Yangtze River Delta Region", "anchor": "start", "frame": "group", "offset": -28, "dx": 21, "fontSize": 11.5},
"encoding": {
"x": {"field": "d", "type": "quantitative", "scale": {"domain": [0, 10], "nice": false}, "axis": {"title": "Time/UTC", "values": [1,2,3,4,5,6,7,8,9], "labelExpr": "['','12/31','01/01','01/02','01/03','01/04','01/05','01/06','01/07','01/08'][datum.value]", "grid": false, "ticks": false, "labelPadding": 5, "titlePadding": 0}},
"y": {"field": "v", "type": "quantitative", "scale": {"domain": [0, 600], "nice": false}, "axis": {"title": "Liquid\u00a0\u00a0Water\u00a0\u00a0Path/g m⁻²", "values": [0,200,400,600]}}
},
"layer": [
{"data": {"name": "yrd_obs"}, "mark": {"type": "bar", "width": 30},
 "encoding": {"color": {"field": "s", "type": "nominal", "scale": {"domain": ["Sim","Obs"], "range": ["#1f9e1f","#c8ecc8"]}, "legend": {"title": null, "symbolType": "M-2,-0.8H2V0.8H-2Z", "symbolSize": 156, "symbolStrokeWidth": 0, "rowPadding": 2, "offset": 7, "labelOffset": 8.5}}}},
{"data": {"name": "yrd_sim"}, "mark": {"type": "bar", "width": 19},
 "encoding": {"color": {"field": "s", "type": "nominal"}}},
{"data": {"name": "yrd_err"}, "mark": {"type": "rule", "color": "#1f3f1f", "strokeWidth": 1},
 "encoding": {"y2": {"field": "v0"}}}
]
}
]
}
],
"config": {
"font": "Liberation Sans",
"view": {"stroke": "#8a8a8a", "strokeWidth": 1},
"axis": {"labelFont": "Liberation Sans", "labelFontSize": 11.5, "labelColor": "#222222", "titleFont": "Liberation Sans", "titleFontSize": 12.5, "titleFontWeight": "normal", "titleColor": "#222222", "titlePadding": 4, "domain": false, "tickColor": "#888888", "tickSize": 4, "labelPadding": 2, "grid": false, "labelOverlap": false},
"axisX": {"labelFlush": false},
"title": {"font": "Liberation Sans", "fontSize": 12.5, "fontWeight": "normal", "color": "#111111"},
"legend": {"orient": "top-right", "offset": 7, "padding": 0, "labelFont": "Liberation Sans", "labelFontSize": 11, "labelColor": "#222222", "labelOffset": 8.5, "symbolType": "M-2,0H2", "symbolSize": 156, "symbolStrokeWidth": 1.3, "rowPadding": 1}
}
}
